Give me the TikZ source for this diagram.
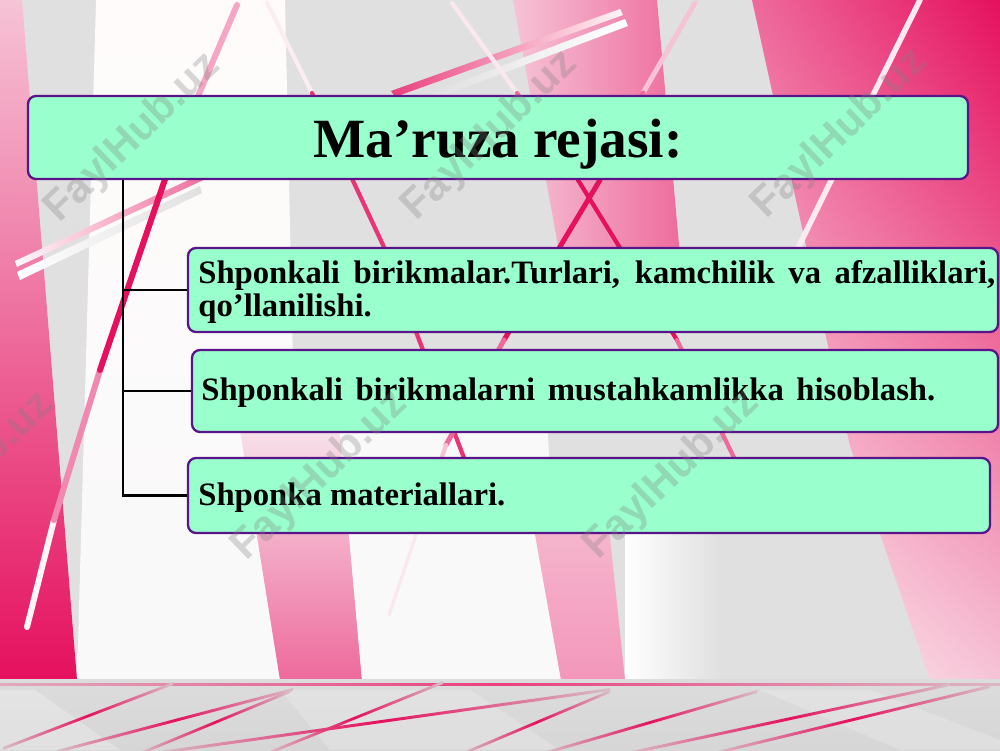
\documentclass[tikz,border=0pt]{standalone}
\usepackage{fontspec}
\setmainfont{Liberation Serif}
\newfontfamily\wmfont{Liberation Sans}
\usetikzlibrary{shadings}
\definecolor{mint}{HTML}{99FFCC}
\definecolor{boxborder}{HTML}{5A1489}
\definecolor{bggray}{HTML}{E0E0E0}
\definecolor{pdeep}{HTML}{E5105E}
\definecolor{pmid}{HTML}{EE6A9C}
\definecolor{plight}{HTML}{F6C3D6}
\definecolor{bandgray}{HTML}{D6D6D6}
\definecolor{bandtop}{HTML}{DCDCDC}
\tikzset{
  box/.style={draw=boxborder, line width=1.3pt, fill=mint, rounded corners=1.6mm, inner sep=0pt},
  tree/.style={draw=black, line width=1.7pt},
  bodytext/.style={inner sep=0pt, anchor=base west, font=\bfseries\fontsize{18.6}{18.6}\selectfont},
  titletext/.style={inner sep=0pt, anchor=base, font=\bfseries\fontsize{31.5}{31.5}\selectfont},
  wmark/.style={rotate=44, inner sep=0pt, font=\wmfont\bfseries\fontsize{24}{24}\selectfont, text=gray, text opacity=0.3},
  deco/.style={line width=0.85mm, line cap=round},
}
\newcommand\bandline[4]{\shade[left color=pdeep!12!bandgray, right color=pdeep!12!bandgray, middle color=pdeep] (#1,#2) -- (#3,#4) -- (#3,#4+3) -- (#1,#2+3) -- cycle;}
\begin{document}
\begin{tikzpicture}[x=0.2mm,y=-0.2mm]
\useasboundingbox (0,0) rectangle (1000,750);
\begin{scope}
\clip (0,0) rectangle (1000,750);
% ---------- background ----------
\fill[bggray] (0,0) rectangle (1000,680);
\shade[top color=white!94!pink, bottom color=white!95!gray] (96,0) -- (285,0) -- (300,680) -- (77,680) -- cycle;
\shade[top color=plight, bottom color=pdeep] (0,0) -- (22,0) -- (77,680) -- (0,680) -- cycle;
\shade[top color=white!95!gray, bottom color=pmid] (232,380) -- (335,380) -- (362,680) -- (280,680) -- cycle;
\fill[white!95!gray] (335,380) -- (545,380) -- (561,680) -- (362,680) -- cycle;
\shade[left color=plight, right color=pmid] (513,0) -- (657,0) -- (684,300) -- (568,300) -- cycle;
\shade[top color=plight, bottom color=pmid!70!white] (522,462) -- (602,462) -- (625,680) -- (561,680) -- cycle;
\shade[left color=white, right color=bggray] (625,462) -- (720,462) -- (720,680) -- (625,680) -- cycle;
\shade[upper left=pmid, upper right=pdeep, lower left=white!85!pink, lower right=plight] (752,0) -- (1000,0) -- (1000,680) -- (930,680) -- (850,446) -- cycle;
% ribbons
\shade[left color=white!90!pink, right color=pmid] (15,261) -- (210,170) -- (212,176) -- (17,267) -- cycle;
\shade[left color=white, right color=bggray] (17,272) -- (200,186) -- (202,193) -- (20,280) -- cycle;
\shade[left color=pdeep!80!white, right color=white!85!pink] (391,91) -- (620,9) -- (623,15) -- (395,97) -- cycle;
\shade[left color=bggray, right color=white] (428,94) -- (625,19) -- (628,26) -- (432,100) -- cycle;
% thin lines
\draw[deco, color=white!70!plight] (267,3) -- (312,93);
\draw[deco, color=pdeep!85!white] (312,93) -- (383,245) -- (480,500);
\draw[deco, line width=1mm, color=plight] (695,3) -- (643,93);
\draw[deco, line width=1mm, color=pmid] (643,93) -- (600,180);
\draw[deco, line width=1mm, color=pdeep] (600,180) -- (504,340);
\draw[deco, line width=1mm, color=pmid] (504,340) -- (446,445);
\draw[deco, color=plight] (446,445) -- (421,520);
\draw[deco, line width=0.6mm, color=white!60!plight] (421,520) -- (389,615);
\draw[deco, color=white!60!plight] (452,3) -- (517,93);
\draw[deco, color=pmid] (517,93) -- (578,180);
\draw[deco, color=pdeep] (578,180) -- (677,340);
\draw[deco, color=pmid] (677,340) -- (740,470);
\draw[deco, line width=1.1mm, color=white!65!plight] (920,0) -- (874,93) -- (797,250) -- (775,300);
\draw[deco, line width=1.2mm, color=white!85!pink] (27,627) -- (54,520);
\draw[deco, line width=1.2mm, color=pmid!80!white] (54,520) -- (100,370);
\draw[deco, line width=1.2mm, color=pdeep] (100,370) -- (175,150);
\draw[deco, line width=1.2mm, color=pmid!60!white] (175,150) -- (237,5);
% bottom band
\shade[top color=bandtop, bottom color=bandgray] (0,679) rectangle (1000,750);
\fill[white, opacity=0.25] (0,690) -- (35,690) -- (120,750) -- (0,750) -- cycle;
\fill[white, opacity=0.2] (280,690) -- (470,690) -- (560,750) -- (330,750) -- cycle;
\fill[white, opacity=0.2] (760,690) -- (870,690) -- (1000,740) -- (1000,750) -- (900,750) -- cycle;
\shade[left color=pmid!40!bandgray, right color=pmid!30!bandgray, middle color=pdeep!80!white] (0,683.5) rectangle (1000,685.8);
\bandline{3}{747}{173}{682}
\bandline{57}{750}{293}{688}
\bandline{140}{752}{290}{690}
\bandline{267}{752}{443}{681}
\bandline{153}{752}{610}{688}
\bandline{463}{752}{610}{690}
\bandline{543}{752}{757}{690}
\bandline{627}{752}{950}{683}
\bandline{713}{752}{990}{685}
\end{scope}
% ---------- diagram ----------
\node[box, minimum width=188mm, minimum height=16.6mm] (tbox) at (498,137.5) {};
\node[box, minimum width=162mm, minimum height=16.8mm] (b1) at (593,290) {};
\node[box, minimum width=161.2mm, minimum height=16.4mm] (b2) at (595,391) {};
\node[box, minimum width=160.4mm, minimum height=15mm] (b3) at (589,495.5) {};
\coordinate (trunkx) at (123,0);
\draw[tree] (tbox.south -| trunkx) |- (b3.west);
\draw[tree] (b1.west -| trunkx) -- (b1.west);
\draw[tree] (b2.west -| trunkx) -- (b2.west);
\node[titletext] (title) at (498,157) {Ma’ruza rejasi:};
\node[bodytext] (t1a) at (198,283) {\makebox[159.4mm][s]{Shponkali birikmalar.Turlari, kamchilik va afzalliklari,}};
\node[bodytext] (t1b) at (198,316) {qo’llanilishi.};
\node[bodytext] (t2) at (201,400) {\makebox[146.8mm][s]{Shponkali birikmalarni mustahkamlikka hisoblash.}};
\node[bodytext] (t3) at (198,505) {Shponka materiallari.};
% ---------- watermark ----------
\begin{scope}
\clip (0,0) rectangle (1000,750);
\node[wmark] (wm1) at (133,138) {FaylHub.uz};
\node[wmark] (wm2) at (490,136) {FaylHub.uz};
\node[wmark] (wm3) at (840,134) {FaylHub.uz};
\node[wmark] (wm4) at (-34,477) {FaylHub.uz};
\node[wmark] (wm5) at (320,476) {FaylHub.uz};
\node[wmark] (wm6) at (672,475) {FaylHub.uz};
\end{scope}
\end{tikzpicture}
\end{document}
